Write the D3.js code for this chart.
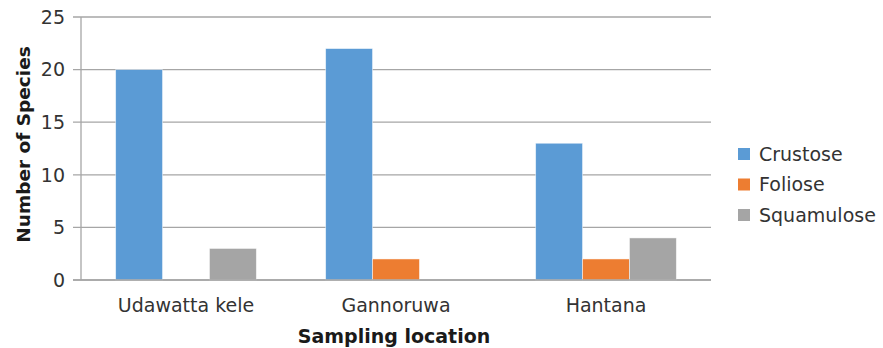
<!DOCTYPE html>
<html>
<head>
<meta charset="utf-8">
<script src="https://cdn.jsdelivr.net/npm/d3@7"></script>
<style>
  html, body { margin: 0; padding: 0; background: #fff; }
  svg { display: block; font-family: "DejaVu Sans", sans-serif; }
</style>
</head>
<body>
<svg id="chart" width="883" height="348"></svg>
<script>
const categories = ["Udawatta kele", "Gannoruwa", "Hantana"];
const seriesNames = ["Crustose", "Foliose", "Squamulose"];
const crustose = [20, 22, 13];
const foliose = [0, 2, 2];
const squamulose = [3, 0, 4];
const yTicks = [0, 5, 10, 15, 20, 25];
const colors = ["#5b9bd5", "#ed7d31", "#a5a5a5"];

(function () {
const seriesValues = [crustose, foliose, squamulose];
const data = categories.map((c, i) => ({
  category: c,
  values: seriesNames.map((s, j) => ({ series: s, value: seriesValues[j][i], color: colors[j] }))
}));

const svg = d3.select("#chart");
const pLeft = 81, pRight = 711, pTop = 17, pBottom = 280;

const x = d3.scaleBand().domain(categories).range([pLeft, pRight]).paddingInner(0.33).paddingOuter(0.165);
const xs = d3.scaleBand().domain(seriesNames).range([0, x.bandwidth()]).padding(0);
const y = d3.scaleLinear().domain([0, 25]).range([pBottom, pTop]);

const gridColor = "#a6a6a6";

// gridlines + tick marks
svg.append("g").selectAll("line").data(yTicks).join("line")
  .attr("x1", pLeft - 8).attr("x2", pRight)
  .attr("y1", d => y(d)).attr("y2", d => y(d))
  .attr("stroke", gridColor).attr("stroke-width", 1.3);

// y axis line
svg.append("line")
  .attr("x1", pLeft).attr("x2", pLeft).attr("y1", pTop).attr("y2", pBottom)
  .attr("stroke", gridColor).attr("stroke-width", 1.3);

// y tick labels
svg.append("g").selectAll("text").data(yTicks).join("text")
  .attr("x", 65).attr("y", d => y(d))
  .attr("dy", "0.36em")
  .attr("text-anchor", "end")
  .attr("font-size", 19).attr("fill", "#333")
  .text(d => d);

// bars
const groups = svg.append("g").selectAll("g").data(data).join("g")
  .attr("transform", d => `translate(${x(d.category)},0)`);
groups.selectAll("rect").data(d => d.values.filter(v => v.value > 0)).join("rect")
  .attr("x", d => xs(d.series))
  .attr("width", xs.bandwidth())
  .attr("y", d => y(d.value))
  .attr("height", d => y(0) - y(d.value))
  .attr("fill", d => d.color)
  .attr("stroke", "rgba(255,255,255,0.6)")
  .attr("stroke-width", 0.8);

// redraw baseline on top
svg.append("line")
  .attr("x1", pLeft - 8).attr("x2", pRight).attr("y1", y(0)).attr("y2", y(0))
  .attr("stroke", gridColor).attr("stroke-width", 1.3);

// x labels
svg.append("g").selectAll("text").data(categories).join("text")
  .attr("x", d => x(d) + x.bandwidth() / 2)
  .attr("y", 312)
  .attr("text-anchor", "middle")
  .attr("font-size", 19).attr("fill", "#333")
  .text(d => d);

// axis titles
svg.append("text")
  .attr("x", (pLeft + pRight) / 2 - 2).attr("y", 343)
  .attr("text-anchor", "middle")
  .attr("font-size", 19).attr("font-weight", "bold").attr("fill", "#1a1a1a")
  .text("Sampling location");

svg.append("text")
  .attr("transform", `translate(30,${(pTop + pBottom) / 2 - 4}) rotate(-90)`)
  .attr("text-anchor", "middle")
  .attr("font-size", 18.5).attr("font-weight", "bold").attr("fill", "#1a1a1a")
  .text("Number of Species");

// legend
const legend = svg.append("g").selectAll("g").data(seriesNames).join("g")
  .attr("transform", (d, i) => `translate(738,${148 + i * 30.5})`);
legend.append("rect").attr("width", 12).attr("height", 12)
  .attr("fill", (d, i) => colors[i]);
legend.append("text")
  .attr("x", 21).attr("y", 12.5)
  .attr("font-size", 19).attr("fill", "#333")
  .text(d => d);
})();
</script>
</body>
</html>
